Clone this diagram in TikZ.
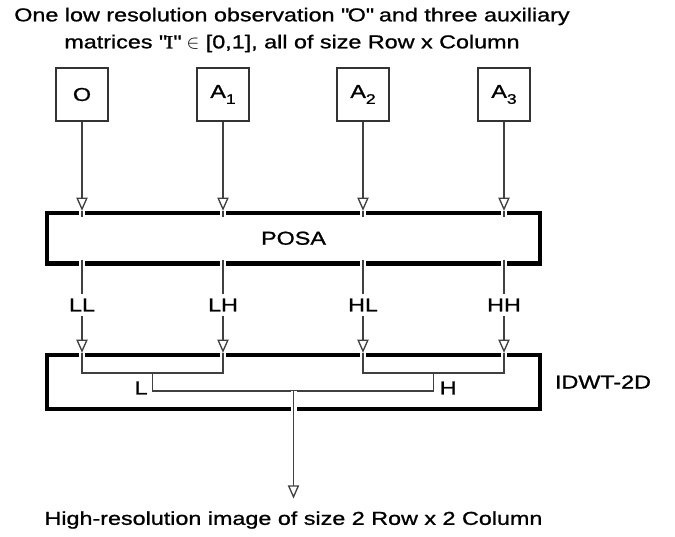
\documentclass[tikz,border=0pt]{standalone}
\usepackage{fontspec}
\setmainfont{Liberation Sans}[FakeStretch=1.25,FakeBold=1]
\newfontfamily\serifI{Liberation Serif}[FakeStretch=1.25,FakeBold=1]
\usetikzlibrary{arrows.meta,positioning}
\newcommand\subidx[1]{\raisebox{-4.5pt}{\fontsize{10.5}{10.5}\selectfont #1}}
\begin{document}
\begin{tikzpicture}[x=0.75pt,y=-0.75pt,font=\fontsize{14}{20.25}\selectfont]
        \tikzstyle{input}=[draw=black!80,line width=1.2pt,minimum width=39.3pt,minimum height=40pt,inner sep=0pt]
        \tikzstyle{block}=[draw=black,line width=3.2pt,minimum width=369.75pt,inner sep=0pt]
        \tikzstyle{band}=[inner sep=3.5pt]
        \tikzstyle{wire}=[draw=black!75,line width=1pt]
        \tikzstyle{flow}=[wire,-{Triangle[open,width=8.5pt,length=10pt,fill=white]}]
        \tikzstyle{thru}=[wire,preaction={draw=white,line width=4.5pt,arrows=-}]
        \useasboundingbox (0,0) rectangle (675,536);
       \begin{scope}
         \node [align=center] (title) at (292,30) {One low resolution observation \textquotedbl O\textquotedbl{} and three auxiliary\\matrices \textquotedbl{\serifI I}\textquotedbl{} $\in$ [0,1], all of size Row x Column};
         \node [input] (o)  at (82,94.5)  {O};
         \node [input] (a1) at (223,94.5) {A\subidx{1}};
         \node [input] (a2) at (363,94.5) {A\subidx{2}};
         \node [input] (a3) at (504,94.5) {A\subidx{3}};
         \node [block,minimum height=37.9pt] (posa) at (293.5,238.25) {POSA};
         \node [band] (ll) at (82,305)  {LL};
         \node [band] (lh) at (223,305) {LH};
         \node [band] (hl) at (363,305) {HL};
         \node [band] (hh) at (504,305) {HH};
         \node [block,minimum height=40.5pt] (idwt) at (293.5,382) {};
         \node [band,right=6pt of idwt] (idwtname) {IDWT-2D};
         \coordinate (jl) at (152.5,373);
         \coordinate (jh) at (433.5,373);
         \coordinate (cl) at (152.5,391);
         \coordinate (ch) at (433.5,391);
         \coordinate (jo) at (293.5,391);
         \node [band,left=0pt of cl,yshift=2.25pt] (l) {L};
         \node [band,right=1pt of ch,yshift=2.25pt] (h) {H};
         \node (hires) at (293.5,520) {High-resolution image of size 2 Row x 2 Column};
         % inputs into POSA
         \draw[flow] (o) -- (o |- posa.north);
         \draw[flow] (a1) -- (a1 |- posa.north);
         \draw[flow] (a2) -- (a2 |- posa.north);
         \draw[flow] (a3) -- (a3 |- posa.north);
         \draw[thru] (o |- posa.north) -- ++(0,6);
         \draw[thru] (a1 |- posa.north) -- ++(0,6);
         \draw[thru] (a2 |- posa.north) -- ++(0,6);
         \draw[thru] (a3 |- posa.north) -- ++(0,6);
         % sub-bands
         \draw[thru] (ll |- posa.south) ++(0,-6) -- (ll);
         \draw[thru] (lh |- posa.south) ++(0,-6) -- (lh);
         \draw[thru] (hl |- posa.south) ++(0,-6) -- (hl);
         \draw[thru] (hh |- posa.south) ++(0,-6) -- (hh);
         \draw[flow] (ll) -- (ll |- idwt.north);
         \draw[flow] (lh) -- (lh |- idwt.north);
         \draw[flow] (hl) -- (hl |- idwt.north);
         \draw[flow] (hh) -- (hh |- idwt.north);
         % inverse transform
         \draw[thru] (ll |- idwt.north) |- (jl) -| (lh |- idwt.north);
         \draw[thru] (hl |- idwt.north) |- (jh) -| (hh |- idwt.north);
         \draw[wire] (jl) -- (cl) -- (ch) -- (jh);
         \draw[flow,thru,shorten >=6pt] (jo) -- (hires);
        \end{scope}
      \end{tikzpicture}
\end{document}
